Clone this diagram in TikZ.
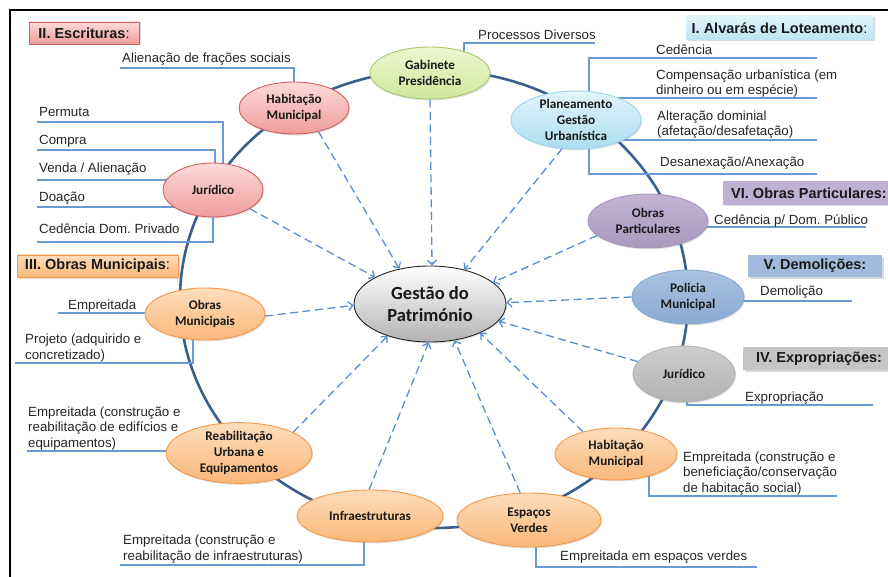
\documentclass[tikz,border=0pt]{standalone}
\usepackage{fontspec}
\setmainfont{Liberation Sans}
\newfontfamily\calibri{Carlito}
\usetikzlibrary{shapes.geometric,arrows.meta,shadows}
\pgfdeclarelayer{bg}
\pgfsetlayers{bg,main}
\frenchspacing

\definecolor{ringc}{HTML}{3B5E8C}
\definecolor{leadc}{HTML}{6A9AD2}
\definecolor{flowc}{HTML}{5B8ED0}
\definecolor{txtc}{HTML}{262626}
\definecolor{redB}{HTML}{D0605E}
\definecolor{redT}{HTML}{FCDADA}
\definecolor{redD}{HTML}{F09C9C}
\definecolor{orgB}{HTML}{F79646}
\definecolor{orgT}{HTML}{FDDDBD}
\definecolor{orgD}{HTML}{F9B87A}
\definecolor{grnB}{HTML}{A8C66C}
\definecolor{grnT}{HTML}{EEF7D0}
\definecolor{grnD}{HTML}{CFE79C}
\definecolor{cyaB}{HTML}{9AD3EA}
\definecolor{cyaT}{HTML}{E2F5FC}
\definecolor{cyaD}{HTML}{ABDDF1}
\definecolor{purT}{HTML}{C2B4D4}
\definecolor{purD}{HTML}{A898BF}
\definecolor{bluT}{HTML}{A9C3E2}
\definecolor{bluD}{HTML}{8AA9D1}
\definecolor{gryT}{HTML}{CDCDCD}
\definecolor{gryD}{HTML}{B3B3B3}

\tikzset{
  ring/.style={draw=ringc, line width=2.6pt},
  leader/.style={draw=leadc, line width=1.2pt},
  flow/.style={draw=flowc, line width=1.3pt, dash pattern=on 8pt off 4.5pt,
    -{Straight Barb[length=4.5pt,width=9pt]}},
  lbl/.style={inner sep=0pt, text=txtc, align=left,
    font=\fontsize{13.3}{15.2}\selectfont},
  bubble/.style={ellipse, inner sep=0pt, align=center, text=black!90,
    line width=0.9pt, font=\calibri\bfseries\fontsize{13.2}{15.8}\selectfont,
    drop shadow={shadow xshift=1pt, shadow yshift=-1.5pt, opacity=.22}},
  redbub/.style={bubble, draw=redB, top color=redT, bottom color=redD},
  orgbub/.style={bubble, draw=orgB, top color=orgT, bottom color=orgD},
  grnbub/.style={bubble, draw=grnB, top color=grnT, bottom color=grnD},
  cyabub/.style={bubble, draw=cyaB, top color=cyaT, bottom color=cyaD},
  purbub/.style={bubble, draw=purD, top color=purT, bottom color=purD},
  blubub/.style={bubble, draw=bluD, top color=bluT, bottom color=bluD},
  grybub/.style={bubble, draw=gryD, top color=gryT, bottom color=gryD},
  tag/.style={rectangle, inner sep=0pt, text=black!90,
    font=\bfseries\fontsize{14.5}{16}\selectfont,
    drop shadow={shadow xshift=1.5pt, shadow yshift=-1.5pt, opacity=.3}},
}

\begin{document}
\begin{tikzpicture}[x=1pt, y=-1pt]
\useasboundingbox (0,0) rectangle (888,577);

% frame
\coordinate (frBL) at (10,577);
\coordinate (frTL) at (10,10);
\coordinate (frTR) at (888,10);
\draw[line width=1.4pt] (frBL) -- (frTL) -- (frTR);

% ---- section headings
\node[tag, draw=redB, line width=0.9pt, top color=redT, bottom color=redD,
  minimum width=110pt, minimum height=22pt] (hEsc) at (84,33)
  {II. Escrituras\mdseries:};
\node[tag, top color=cyaT, bottom color=cyaD!80,
  minimum width=187pt, minimum height=24pt] (hAlv) at (779.5,28)
  {I. Alvarás de Loteamento\mdseries:};
\node[tag, fill=purT!90!purD, minimum width=172pt, minimum height=24pt]
  (hPar) at (809,193) {VI. Obras Particulares:};
\node[tag, fill=bluT!70!bluD, minimum width=134pt, minimum height=22pt]
  (hDem) at (815,266) {V. Demolições:};
\node[tag, fill=gryT!70!gryD, minimum width=152pt, minimum height=23pt]
  (hExp) at (819,358.5) {IV. Expropriações:};
\node[tag, draw=orgB, line width=0.9pt, top color=orgT, bottom color=orgD,
  minimum width=161pt, minimum height=22pt] (hMun) at (97.5,266)
  {III. Obras Municipais\mdseries:};

% ---- bubbles
\node[bubble, draw=black!85, top color=white, bottom color=gryD,
  minimum width=152pt, minimum height=76pt,
  font=\calibri\bfseries\fontsize{18.5}{22}\selectfont] (ctr) at (430,304)
  {Gestão do\\Património};
\node[grnbub, minimum width=120pt, minimum height=52pt] (gab) at (430,73)
  {Gabinete\\Presidência};
\node[redbub, minimum width=110pt, minimum height=52pt] (habR) at (294,108)
  {Habitação\\Municipal};
\node[redbub, minimum width=100pt, minimum height=54pt] (jurR) at (213,190)
  {Jurídico};
\node[cyabub, minimum width=130pt, minimum height=56pt] (plan) at (576,120)
  {Planeamento\\Gestão\\Urbanística};
\node[purbub, minimum width=120pt, minimum height=54pt] (opar) at (648,221)
  {Obras\\Particulares};
\node[blubub, minimum width=112pt, minimum height=54pt] (pol) at (688,297)
  {Policia\\Municipal};
\node[grybub, minimum width=102pt, minimum height=56pt] (jurG) at (684,374)
  {Jurídico};
\node[orgbub, minimum width=122pt, minimum height=52pt] (habO) at (616,454)
  {Habitação\\Municipal};
\node[orgbub, minimum width=144pt, minimum height=54pt] (esp) at (529,520)
  {Espaços\\Verdes};
\node[orgbub, minimum width=146pt, minimum height=52pt] (inf) at (370,516)
  {Infraestruturas};
\node[orgbub, minimum width=146pt, minimum height=52pt] (reab) at (239,453)
  {Reabilitação\\Urbana e\\Equipamentos};
\node[orgbub, minimum width=120pt, minimum height=52pt] (omun) at (205,314)
  {Obras\\Municipais};

% ---- labels
\node[lbl, anchor=base west] (tAli) at (122,63) {Alienação de frações sociais};
\node[lbl, anchor=base west] (tPer) at (39,117) {Permuta};
\node[lbl, anchor=base west] (tCom) at (39,145) {Compra};
\node[lbl, anchor=base west] (tVen) at (39,173) {Venda / Alienação};
\node[lbl, anchor=base west] (tDoa) at (39,202) {Doação};
\node[lbl, anchor=base west] (tCed) at (39,234) {Cedência Dom. Privado};
\node[lbl, anchor=base west] (tPro) at (478,40) {Processos Diversos};
\node[lbl, anchor=base west] (tCd) at (656,55) {Cedência};
\node[lbl, anchor=base west] (tCmp) at (656,95)
  {Compensação urbanística (em\\dinheiro ou em espécie)};
\node[lbl, anchor=base west] (tAlt) at (657,136)
  {Alteração dominial\\(afetação/desafetação)};
\node[lbl, anchor=base west] (tDes) at (660,167) {Desanexação/Anexação};
\node[lbl, anchor=base west] (tCpu) at (714,225) {Cedência p/ Dom. Público};
\node[lbl, anchor=base west] (tDem) at (760,295) {Demolição};
\node[lbl, anchor=base west] (tExp) at (745,401) {Expropriação};
\node[lbl, anchor=base west] (tHo) at (683,492)
  {Empreitada (construção e\\beneficiação/conservação\\de habitação social)};
\node[lbl, anchor=base west] (tEv) at (560,560) {Empreitada em espaços verdes};
\node[lbl, anchor=base west] (tIf) at (123,560)
  {Empreitada (construção e\\reabilitação de infraestruturas)};
\node[lbl, anchor=base west] (tRe) at (28,447)
  {Empreitada (construção e\\reabilitação de edifícios e\\equipamentos)};
\node[lbl, anchor=base west] (tEm) at (68,309) {Empreitada};
\node[lbl, anchor=base west] (tPj) at (25,359)
  {Projeto (adquirido e\\concretizado)};

% ---- leader line corners
\coordinate (aliE) at (120,68);
\coordinate (perE) at (37,122);  \coordinate (perC) at (223,122);
\coordinate (comE) at (37,150);  \coordinate (comC) at (215,150);
\coordinate (venE) at (37,180);
\coordinate (doaE) at (37,207);
\coordinate (cedE) at (37,242);
\coordinate (proE) at (595,43);  \coordinate (proC) at (464,43);
\coordinate (pv1) at (589,58);   \coordinate (pv2) at (589,174);
\coordinate (ph1) at (817,58);   \coordinate (ph2) at (817,98);
\coordinate (ph3) at (817,140);  \coordinate (ph4) at (817,174);
\coordinate (cpE) at (866,227);
\coordinate (demE) at (852,301);
\coordinate (expC) at (687,405); \coordinate (expE) at (873,405);
\coordinate (hoC) at (649,496);  \coordinate (hoE) at (837,496);
\coordinate (evC) at (536,567);  \coordinate (evE) at (757,567);
\coordinate (ifC) at (364,565);  \coordinate (ifE) at (120,565);
\coordinate (reE) at (27,451);
\coordinate (emE) at (58,313);
\coordinate (prC) at (193,363);  \coordinate (prE) at (15,363);

\begin{pgfonlayer}{bg}
  % ring through the departments
  \draw[ring] (434,299) ellipse [x radius=254, y radius=229];
  % leaders
  \draw[leader] (habR.center) |- (aliE);
  \draw[leader] (perE) -- (perC) -- (perC |- jurR.center);
  \draw[leader] (comE) -- (comC) -- (comC |- jurR.center);
  \draw[leader] (venE) -- (venE -| jurR.center);
  \draw[leader] (doaE) -- (doaE -| jurR.center);
  \draw[leader] (cedE) -| (jurR.center);
  \draw[leader] (proE) -- (proC) -- (proC |- gab.center);
  \draw[leader] (ph1) -- (pv1) -- (pv2) -- (ph4);
  \draw[leader] (ph2) -- (ph2 -| pv1);
  \draw[leader] (ph3) -- (ph3 -| pv1);
  \draw[leader] (cpE) -- (cpE -| opar.center);
  \draw[leader] (demE) -- (demE -| pol.center);
  \draw[leader] (expE) -- (expC) -- (expC |- jurG.center);
  \draw[leader] (hoE) -- (hoC) -- (hoC |- habO.center);
  \draw[leader] (evE) -- (evC) -- (evC |- esp.center);
  \draw[leader] (ifE) -- (ifC) -- (ifC |- inf.center);
  \draw[leader] (reE) -- (reE -| reab.center);
  \draw[leader] (emE) -- (emE -| omun.center);
  \draw[leader] (prE) -- (prC) -- (prC |- omun.center);
\end{pgfonlayer}

% ---- flows into the asset management core
\draw[flow] (jurR.-27) -- (ctr.154.7);
\draw[flow] (habR.-44) -- (ctr.131.6);
\draw[flow] (gab.-90) -- (ctr.87);
\draw[flow] (plan.-116.6) -- (ctr.45);
\draw[flow] (opar.-164.7) -- (ctr.19.2);
\draw[flow] (pol.180) -- (ctr.1);
\draw[flow] (jurG.165.7) -- (ctr.-14);
\draw[flow] (habO.146.3) -- (ctr.-30.3);
\draw[flow] (esp.108.4) -- (ctr.-56);
\draw[flow] (inf.92) -- (ctr.-92);
\draw[flow] (reab.21.4) -- (ctr.-143.7);
\draw[flow] (omun.-2) -- (ctr.-179);

\end{tikzpicture}
\end{document}
